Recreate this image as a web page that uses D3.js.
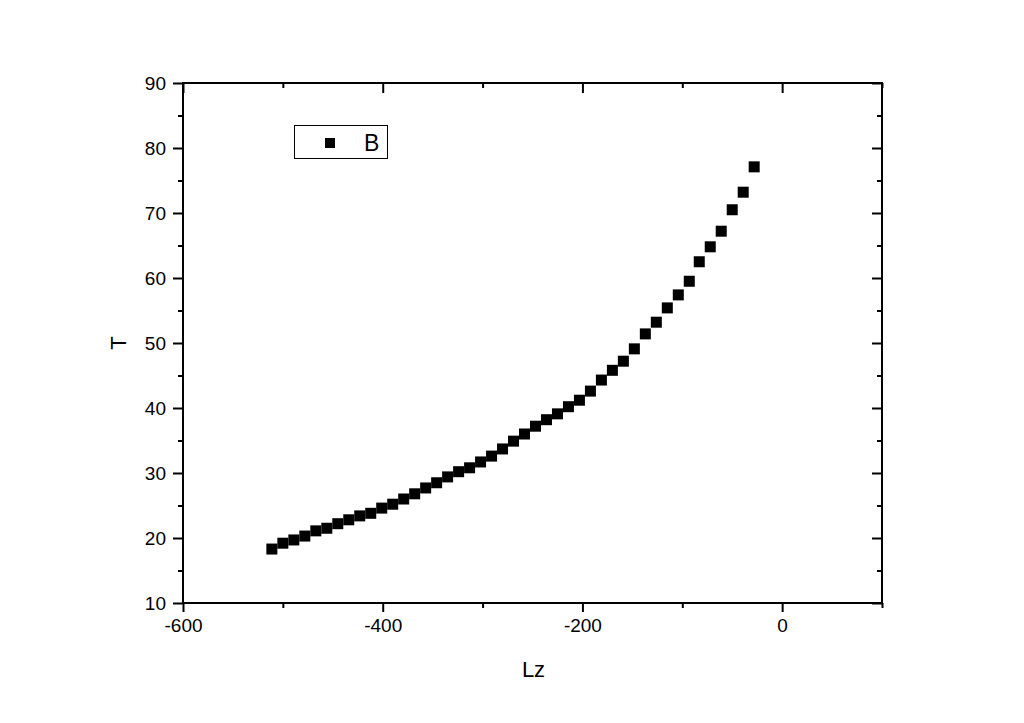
<!DOCTYPE html>
<html><head><meta charset="utf-8">
<script src="https://cdn.jsdelivr.net/npm/d3@7"></script>
<style>body{margin:0;background:#fff}svg{display:block}text{font-family:"Liberation Sans",Arial,sans-serif;fill:#000}</style>
</head><body>
<svg id="c" width="1024" height="723"></svg>
<script>
const lz = [-511,-500,-489,-478,-467,-456,-445,-434,-423,-412,-401,-390,-379,-368,-357,-346,-335,-324,-313,-302,-291,-280,-269,-258,-247,-236,-225,-214,-203,-192,-181,-170,-159,-148,-137,-126,-115,-104,-93,-83,-72,-61,-50,-39,-28];
const tVals = [18.3,19.2,19.7,20.3,21.1,21.5,22.2,22.8,23.4,23.8,24.6,25.2,26.0,26.8,27.7,28.5,29.4,30.2,30.8,31.7,32.6,33.7,34.9,36.0,37.2,38.2,39.1,40.2,41.2,42.6,44.3,45.8,47.2,49.1,51.4,53.2,55.4,57.4,59.5,62.5,64.8,67.2,70.5,73.2,77.1];
const xMajor = [-600,-400,-200,0];
const xMinor = [-500,-300,-100,100];
const yMajor = [10,20,30,40,50,60,70,80,90];
const yMinor = [15,25,35,45,55,65,75,85];
const seriesName = "B";
const xTitle = "Lz", yTitle = "T";

const svg = d3.select("#c");
const L=183,R=882,T=83,B=603;
const x = d3.scaleLinear().domain([-600,100]).range([L,R]);
const y = d3.scaleLinear().domain([10,90]).range([B,T]);
const fmt = d => String(d);

function styleAxis(g){
  g.attr("font-size",19).attr("font-family","Liberation Sans, Arial, sans-serif");
  g.select(".domain").remove();
  g.selectAll("line").attr("stroke","#000").attr("stroke-width",2);
  g.selectAll("text").attr("font-size",19).attr("fill","#000");
}
// bottom
svg.append("g").attr("transform",`translate(0,${B})`).call(d3.axisBottom(x).tickValues(xMajor).tickSize(9).tickPadding(7).tickFormat(fmt)).call(styleAxis);
svg.append("g").attr("transform",`translate(0,${B})`).call(d3.axisBottom(x).tickValues(xMinor).tickSize(5).tickFormat("")).call(styleAxis);
// top
svg.append("g").attr("transform",`translate(0,${T})`).call(d3.axisBottom(x).tickValues(xMajor).tickSize(10).tickFormat("")).call(styleAxis);
svg.append("g").attr("transform",`translate(0,${T})`).call(d3.axisBottom(x).tickValues(xMinor).tickSize(5).tickFormat("")).call(styleAxis);
// left
svg.append("g").attr("transform",`translate(${L},0)`).call(d3.axisLeft(y).tickValues(yMajor).tickSize(10).tickPadding(7).tickFormat(fmt)).call(styleAxis);
svg.append("g").attr("transform",`translate(${L},0)`).call(d3.axisLeft(y).tickValues(yMinor).tickSize(5).tickFormat("")).call(styleAxis);
// right
svg.append("g").attr("transform",`translate(${R},0)`).call(d3.axisLeft(y).tickValues(yMajor).tickSize(10).tickFormat("")).call(styleAxis);
svg.append("g").attr("transform",`translate(${R},0)`).call(d3.axisLeft(y).tickValues(yMinor).tickSize(5).tickFormat("")).call(styleAxis);

svg.append("rect").attr("x",L).attr("y",T).attr("width",R-L).attr("height",B-T)
  .attr("fill","none").attr("stroke","#000").attr("stroke-width",2);

const S=11;
svg.append("g").selectAll("rect").data(lz.map((v,i)=>[v,tVals[i]])).join("rect")
  .attr("x",d=>x(d[0])-S/2).attr("y",d=>y(d[1])-S/2).attr("width",S).attr("height",S).attr("fill","#000");

// legend
svg.append("rect").attr("x",294.5).attr("y",125.5).attr("width",93).attr("height",33)
  .attr("fill","#fff").attr("stroke","#000").attr("stroke-width",1);
svg.append("rect").attr("x",325).attr("y",138).attr("width",10).attr("height",10).attr("fill","#000");
svg.append("text").attr("x",364).attr("y",151).attr("font-size",23).text(seriesName);

svg.append("text").attr("x",(L+R)/2+1).attr("y",677).attr("text-anchor","middle").attr("font-size",22).text(xTitle);
svg.append("text").attr("transform",`translate(126,${(T+B)/2}) rotate(-90)`).attr("text-anchor","middle").attr("font-size",22).text(yTitle);
</script>
</body></html>
